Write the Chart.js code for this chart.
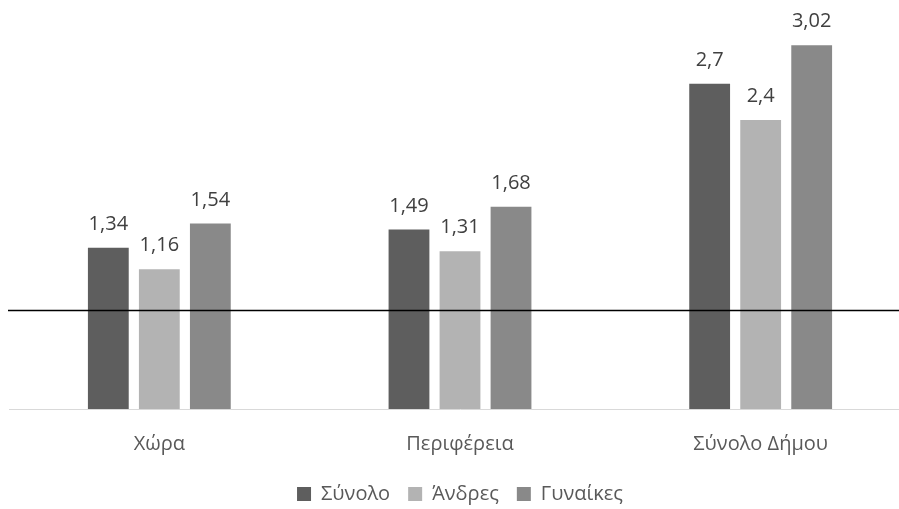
<!DOCTYPE html>
<html>
<head>
<meta charset="utf-8">
<script src="https://cdn.jsdelivr.net/npm/chart.js@4/dist/chart.umd.min.js"></script>
<style>
  html, body { margin: 0; padding: 0; background: #fff; overflow: hidden; }
  /* plot area runs a little past the right edge, as in the original crop */
  #wrap { width: 911px; height: 509px; }
</style>
</head>
<body>
<div id="wrap"><canvas id="chart"></canvas></div>
<script>
// Chart data
const categories = ["Χώρα", "Περιφέρεια", "Σύνολο Δήμου"];
const seriesNames = ["Σύνολο", "Άνδρες", "Γυναίκες"];
const totalValues = [1.34, 1.49, 2.7];
const menValues = [1.16, 1.31, 2.4];
const womenValues = [1.54, 1.68, 3.02];
const referenceValue = 0.82;

const colors = ["#5e5e5e", "#b3b3b3", "#898989"];
const fontFamily = "'Open Sans', 'Noto Sans', sans-serif";

// Draws value labels above each bar (Greek decimal comma)
const valueLabels = {
  id: "valueLabels",
  afterDatasetsDraw(chart) {
    const ctx = chart.ctx;
    ctx.save();
    ctx.fillStyle = "#404040";
    ctx.font = "20px " + fontFamily;
    ctx.textAlign = "center";
    ctx.textBaseline = "alphabetic";
    chart.data.datasets.forEach((ds, i) => {
      chart.getDatasetMeta(i).data.forEach((bar, j) => {
        const txt = String(ds.data[j]).replace(".", ",");
        ctx.fillText(txt, bar.x, bar.y - 18);
      });
    });
    ctx.restore();
  }
};

// Horizontal reference line across the plot
const refLine = {
  id: "refLine",
  afterDatasetsDraw(chart) {
    const y = Math.round(chart.scales.y.getPixelForValue(referenceValue)) + 0.5;
    const ctx = chart.ctx;
    ctx.save();
    ctx.strokeStyle = "#000";
    ctx.lineWidth = 1.3;
    ctx.beginPath();
    ctx.moveTo(chart.chartArea.left - 1, y);
    ctx.lineTo(chart.width, y);
    ctx.stroke();
    ctx.restore();
  }
};

const chart = new Chart(document.getElementById("chart"), {
  type: "bar",
  data: {
    labels: categories,
    datasets: [
      { label: seriesNames[0], data: totalValues, backgroundColor: colors[0] },
      { label: seriesNames[1], data: menValues, backgroundColor: colors[1] },
      { label: seriesNames[2], data: womenValues, backgroundColor: colors[2] }
    ]
  },
  options: {
    responsive: true,
    maintainAspectRatio: false,
    animation: false,
    devicePixelRatio: 1,
    layout: { padding: { left: 9, right: 0, top: 8, bottom: -5 } },
    datasets: {
      bar: { categoryPercentage: 0.509, barPercentage: 0.8 }
    },
    scales: {
      x: {
        grid: { display: false },
        border: { color: "#d9d9d9", width: 1 },
        ticks: {
          color: "#595959",
          padding: 15,
          font: { family: fontFamily, size: 20 }
        },
        afterFit(scale) { scale.height = 57; }
      },
      y: {
        display: false,
        min: 0,
        max: 3.33
      }
    },
    plugins: {
      legend: {
        position: "bottom",
        labels: {
          boxWidth: 14,
          boxHeight: 14,
          padding: 18,
          color: "#595959",
          font: { family: fontFamily, size: 20 }
        }
      },
      tooltip: { enabled: false }
    }
  },
  plugins: [valueLabels, refLine]
});
</script>
</body>
</html>
